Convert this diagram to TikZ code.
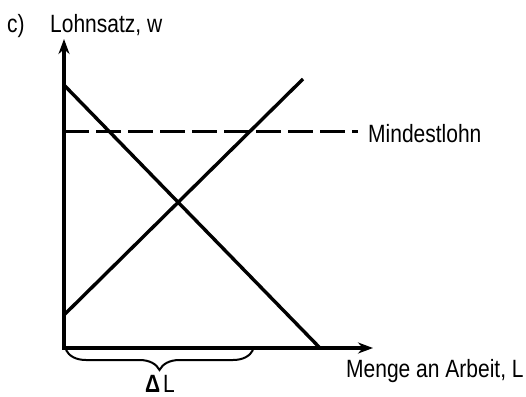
\documentclass[tikz,border=0pt]{standalone}
\usepackage{fontspec}
\setmainfont{Liberation Sans}[FakeStretch=0.84]
\usetikzlibrary{arrows.meta,decorations.pathreplacing}
\begin{document}
\begin{tikzpicture}[x=1pt,y=-1pt,
  lbl/.style={inner sep=0pt,anchor=base west,font=\fontsize{25}{30}\selectfont},
  axis/.style={line width=3.4pt,-{Stealth[length=15pt,width=11pt]}},
  curve/.style={line width=3.4pt},
  minw/.style={line width=3pt,dash pattern=on 25pt off 7pt}]
\useasboundingbox (0,0) rectangle (526,396);
\coordinate (O) at (64,348);
\coordinate (ytop) at (64,39);
\coordinate (xend) at (373,348);
\coordinate (d1) at (64,85);
\coordinate (d2) at (320,348);
\coordinate (s1) at (64,315);
\coordinate (s2) at (303,79);
\coordinate (m1) at (64,131);
\coordinate (m2) at (358,131);
\coordinate (b1) at (66,350);
\coordinate (b2) at (253,350);
\draw[curve] (d1) -- (d2);
\draw[curve] (s1) -- (s2);
\draw[minw] (m1) -- (m2);
\draw[axis] ([yshift=1.7pt]O) -- (ytop);
\draw[axis] ([xshift=-1.7pt]O) -- (xend);
\draw[line width=2pt,decorate,decoration={brace,mirror,amplitude=20pt}] (b1) -- (b2);
\node[lbl] (c) at (7,33) {c)};
\node[lbl] (wl) at (50,33) {Lohnsatz, w};
\node[lbl] (mw) at (368,142) {Mindestlohn};
\node[lbl] (xl) at (346,377) {Menge an Arbeit, L};
\node[lbl,anchor=base] (dl) at (160,392) {\textbf{Δ}\hspace{3pt}L};
\end{tikzpicture}
\end{document}
